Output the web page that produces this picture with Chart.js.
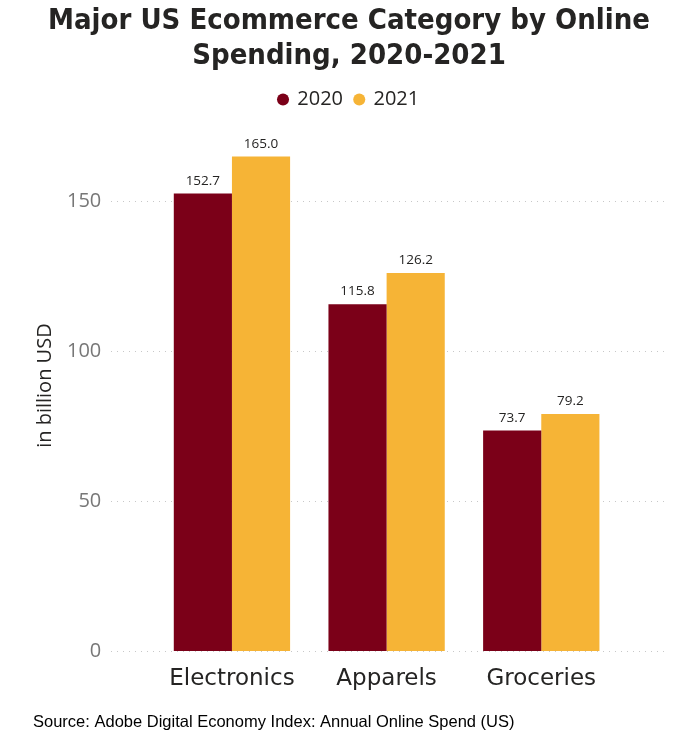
<!DOCTYPE html>
<html>
<head>
<meta charset="utf-8">
<script src="https://cdn.jsdelivr.net/npm/chart.js@4.4.1/dist/chart.umd.min.js"></script>
<style>
  html, body { margin: 0; padding: 0; background: #fff; }
  #wrap { width: 684px; height: 738px; position: relative; }
</style>
</head>
<body>
<div id="wrap"><canvas id="c" width="684" height="738"></canvas></div>
<script>
const categories = ['Electronics', 'Apparels', 'Groceries'];
const seriesNames = ['2020', '2021'];
const values2020 = [152.7, 115.8, 73.7];
const values2021 = [165.0, 126.2, 79.2];
const yTicks = [0, 50, 100, 150];

const dataLabelPlugin = {
  id: 'dataLabels',
  afterDatasetsDraw(chart) {
    const ctx = chart.ctx;
    ctx.save();
    ctx.font = '13.5px "Open Sans", "Noto Sans", sans-serif';
    ctx.fillStyle = '#252423';
    ctx.textAlign = 'center';
    ctx.textBaseline = 'bottom';
    chart.data.datasets.forEach((ds, di) => {
      const meta = chart.getDatasetMeta(di);
      meta.data.forEach((el, i) => {
        const v = ds.data[i].y;
        ctx.fillText(v.toFixed(1), el.x, el.y - 6);
      });
    });
    ctx.restore();
  }
};

new Chart(document.getElementById('c'), {
  type: 'bar',
  data: {
    datasets: [
      { label: seriesNames[0], data: values2020.map((v, i) => ({ x: i, y: v })), backgroundColor: '#7B0018', borderWidth: 0, categoryPercentage: 0.752, barPercentage: 1.0 },
      { label: seriesNames[1], data: values2021.map((v, i) => ({ x: i, y: v })), backgroundColor: '#F6B436', borderWidth: 0, categoryPercentage: 0.752, barPercentage: 1.0 }
    ]
  },
  options: {
    responsive: false,
    animation: false,
    layout: { padding: { left: 33, right: 19, top: 4, bottom: 6 } },
    plugins: {
      title: {
        display: true,
        text: ['Major US Ecommerce Category by Online', 'Spending, 2020-2021'],
        color: '#252423',
        font: { family: '"DejaVu Sans Condensed", "DejaVu Sans", sans-serif', size: 29, weight: 'bold', lineHeight: 1.2 },
        padding: { top: 0, bottom: 4 }
      },
      subtitle: {
        display: true,
        position: 'bottom',
        align: 'start',
        text: 'Source: Adobe Digital Economy Index: Annual Online Spend (US)',
        color: '#000',
        font: { family: '"Liberation Sans", Arial, sans-serif', size: 16.5 },
        padding: { top: 13, bottom: 0 }
      },
      legend: {
        display: true,
        position: 'top',
        labels: {
          usePointStyle: true,
          pointStyle: 'circle',
          boxWidth: 8.5,
          boxHeight: 8.5,
          padding: 12,
          color: '#252423',
          font: { family: '"Open Sans", "Noto Sans", sans-serif', size: 20 }
        }
      },
      tooltip: { enabled: false }
    },
    scales: {
      x: {
        type: 'linear',
        offset: false,
        min: -0.78,
        max: 2.8,
        afterBuildTicks(scale) { scale.ticks = categories.map((c, i) => ({ value: i })); },
        ticks: {
          callback: (v) => categories[v],
          color: '#252423',
          font: { family: '"DejaVu Sans", sans-serif', size: 23 },
          padding: 6,
          maxRotation: 0,
          autoSkip: false
        },
        grid: { display: false },
        border: { display: false }
      },
      y: {
        min: 0,
        max: 177.3,
        afterBuildTicks(scale) { scale.ticks = yTicks.map(v => ({ value: v })); },
        ticks: {
          color: '#777',
          font: { family: '"Open Sans", "Noto Sans", sans-serif', size: 20 },
          padding: 10
        },
        grid: { color: '#c8c8c8', lineWidth: 1, drawTicks: false },
        border: { display: false, dash: [1, 5] },
        title: {
          display: true,
          text: 'in billion USD',
          color: '#252423',
          font: { family: '"Open Sans", "Noto Sans", sans-serif', size: 20 },
          padding: { top: 0, bottom: 0 }
        }
      }
    }
  },
  plugins: [dataLabelPlugin]
});
</script>
</body>
</html>
